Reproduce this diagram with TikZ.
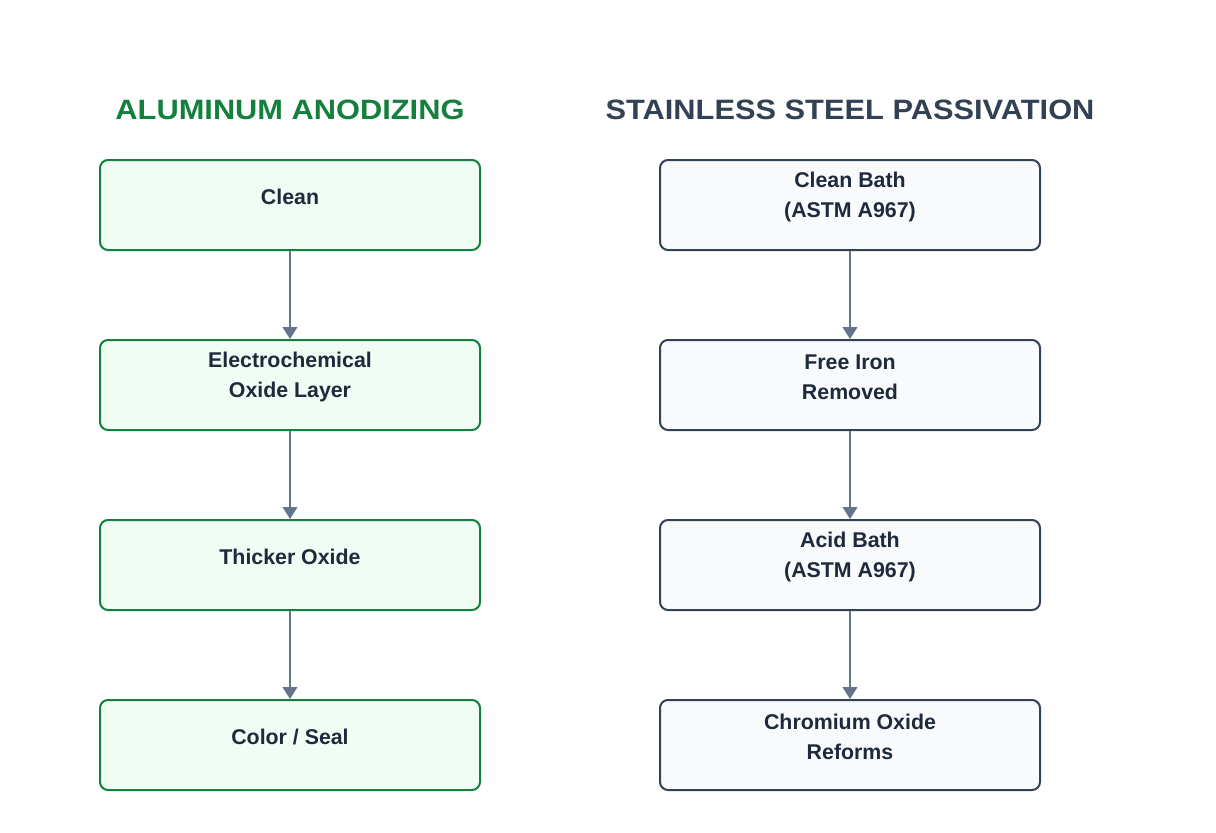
\documentclass[tikz,border=0pt]{standalone}
\usepackage{fontspec}
\setmainfont{Liberation Sans}
\usetikzlibrary{positioning,arrows.meta}
\definecolor{algreen}{HTML}{15803D}
\definecolor{alfill}{HTML}{F0FDF4}
\definecolor{ssslate}{HTML}{334155}
\definecolor{ssfill}{HTML}{F8FAFC}
\definecolor{arrowgray}{HTML}{64748B}
\definecolor{textdark}{HTML}{1E293B}
\tikzset{
  procbox/.style={draw, line width=1.5pt, rounded corners=6pt, minimum width=285pt, minimum height=67.5pt, inner sep=0pt},
  alstep/.style={procbox, draw=algreen, fill=alfill},
  ssstep/.style={procbox, draw=ssslate, fill=ssfill},
  steptext/.style={text=textdark, font=\bfseries\fontsize{16}{22.5}\selectfont, align=center},
  flow/.style={draw=arrowgray, line width=1.5pt, -{Triangle[length=9pt,width=11pt]}},
  heading/.style={font=\bfseries\fontsize{21}{24}\selectfont, xscale=1.1}
}
\begin{document}
\begin{tikzpicture}[x=0.75pt,y=-0.75pt]
\useasboundingbox (0,0) rectangle (1216,832);
% headings
\node[heading, text=algreen] (altitle) at (290,110) {ALUMINUM ANODIZING};
\node[heading, text=ssslate] (sstitle) at (850,110) {STAINLESS STEEL PASSIVATION};
% aluminum column
\node[alstep] (al1) at (290,205) {};
\node[alstep] (al2) at (290,385) {};
\node[alstep] (al3) at (290,565) {};
\node[alstep] (al4) at (290,745) {};
\node[steptext] at (290,197) {Clean};
\node[steptext] at (290,377) {Electrochemical\\Oxide Layer};
\node[steptext] at (290,557) {Thicker Oxide};
\node[steptext] at (290,737) {Color / Seal};
% stainless column
\node[ssstep] (ss1) at (850,205) {};
\node[ssstep] (ss2) at (850,385) {};
\node[ssstep] (ss3) at (850,565) {};
\node[ssstep] (ss4) at (850,745) {};
\node[steptext] at (850,197) {Clean Bath\\(ASTM A967)};
\node[steptext] at (850,377) {Free Iron\\Removed};
\node[steptext] at (850,557) {Acid Bath\\(ASTM A967)};
\node[steptext] at (850,737) {Chromium Oxide\\Reforms};
% arrows
\foreach \a/\b in {al1/al2,al2/al3,al3/al4,ss1/ss2,ss2/ss3,ss3/ss4}
  \draw[flow] (\a.south) -- (\b.north);
\end{tikzpicture}
\end{document}
